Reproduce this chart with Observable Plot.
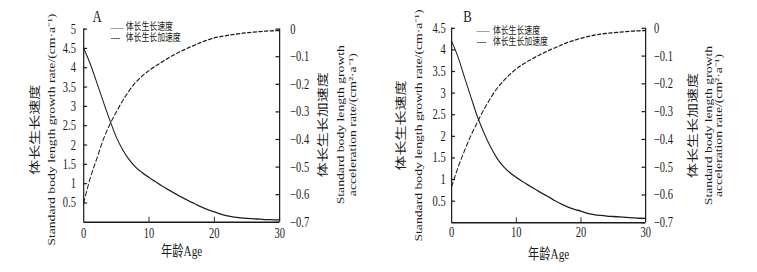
<!DOCTYPE html>
<html>
<head>
<meta charset="utf-8">
<script src="https://cdn.jsdelivr.net/npm/d3@7"></script>
<script src="https://cdn.jsdelivr.net/npm/@observablehq/plot@0.6"></script>
<style>
  html, body { margin: 0; padding: 0; background: #fff; overflow: hidden; }
  #wrap { display: flex; transform: scaleX(0.75); transform-origin: 0 0; width: 1009.33px; }
  #wrap svg { display: block; }
</style>
</head>
<body>
<div id="wrap"></div>
<script>
// ---- data ----
const ages = [0,1,2,3,4,5,6,7,8,9,10,11,12,13,14,15,16,17,18,19,20,21,22,23,24,25,26,27,28,29,30];
const rateA = [4.50,4.10,3.62,3.12,2.64,2.20,1.87,1.61,1.42,1.28,1.16,1.05,0.94,0.84,0.74,0.65,0.56,0.48,0.40,0.33,0.27,0.21,0.165,0.135,0.115,0.10,0.09,0.08,0.07,0.065,0.06];
const accA  = [-0.63,-0.54,-0.47,-0.40,-0.345,-0.30,-0.258,-0.222,-0.192,-0.169,-0.150,-0.134,-0.119,-0.104,-0.091,-0.079,-0.068,-0.058,-0.048,-0.039,-0.032,-0.027,-0.023,-0.019,-0.016,-0.013,-0.011,-0.009,-0.007,-0.006,-0.005];
const rateB = [4.20,3.83,3.36,2.90,2.45,2.08,1.76,1.50,1.30,1.16,1.05,0.95,0.86,0.77,0.68,0.60,0.51,0.43,0.36,0.31,0.27,0.22,0.19,0.17,0.155,0.145,0.135,0.125,0.115,0.105,0.10];
const accB  = [-0.57,-0.50,-0.44,-0.385,-0.337,-0.292,-0.252,-0.217,-0.19,-0.166,-0.146,-0.13,-0.116,-0.103,-0.091,-0.08,-0.07,-0.06,-0.05,-0.043,-0.036,-0.030,-0.025,-0.021,-0.018,-0.016,-0.014,-0.012,-0.010,-0.009,-0.008];

const leftTicksA = [0.5,1,1.5,2,2.5,3,3.5,4,4.5,5];
const leftTicksB = [0.5,1,1.5,2,2.5,3,3.5,4,4.5];
const rightTicks = [0,-0.1,-0.2,-0.3,-0.4,-0.5,-0.6,-0.7];
const xTicks = [0,10,20,30];
const xInnerTicks = [10,20];
const rightDomain = [-0.7, 0];

const panelLetters = ["A","B"];
const legendLabels = ["体长生长速度","体长生长加速度"];
const xTitle = "年龄Age";
const yLeftCn = "体长生长速度";
const yLeftEn = "Standard body length growth rate/(cm·a⁻¹)";
const yRightCn = "体长生长加速度";
const yRightEn1 = "Standard body length growth";
const yRightEn2 = "acceleration rate/(cm²·a⁻¹)";

const FONT = "'Liberation Serif', 'Times New Roman', 'Noto Sans CJK SC', serif";
const INK = "#1a1a1a";

function fmtRight(d) { return d === 0 ? "0" : "\u2212" + Math.abs(d).toFixed(1); }

function panel(cfg) {
  const {width, yMax, rate, acc, leftTicks, letter, m, lab} = cfg;
  const plotW = width - m.left - m.right;
  const plotH = 272 - m.top - m.bottom;
  const toLeft = r => (r - rightDomain[0]) / (rightDomain[1] - rightDomain[0]) * yMax;
  const rows = ages.map((a, i) => ({age: a, rate: rate[i], acc: toLeft(acc[i])}));
  const T = {textAnchor: "middle", lineAnchor: "middle"};
  const L = {frameAnchor: "top-left", textAnchor: "start", lineAnchor: "middle"};
  return Plot.plot({
    width, height: 272,
    marginLeft: m.left, marginRight: m.right, marginTop: m.top, marginBottom: m.bottom,
    x: {domain: [0, 30], axis: null},
    y: {domain: [0, yMax], axis: null},
    style: {fontFamily: FONT, fontSize: "14px", color: INK, background: "white", overflow: "visible"},
    marks: [
      // frame: left, right, bottom
      Plot.ruleX([0, 30], {stroke: INK, strokeWidth: 1.6}),
      Plot.ruleY([0], {stroke: INK, strokeWidth: 1.6}),
      // inward ticks
      Plot.tickY(leftTicks, {y: d => d, insetRight: plotW - 5, stroke: INK, strokeWidth: 1.2}),
      Plot.tickY(rightTicks.map(toLeft), {y: d => d, insetLeft: plotW - 5, stroke: INK, strokeWidth: 1.2}),
      Plot.tickX(xInnerTicks, {x: d => d, insetTop: plotH - 5, stroke: INK, strokeWidth: 1.2}),
      // tick labels
      Plot.axisY(leftTicks, {anchor: "left", tickSize: 0, tickPadding: lab.leftPad, label: null, fontSize: 14, tickFormat: d => String(d)}),
      Plot.text(rightTicks, {y: d => toLeft(d), text: fmtRight, frameAnchor: "right", textAnchor: "start", lineAnchor: "middle", dx: lab.rightPad, fontSize: 14, fill: INK}),
      Plot.axisX(xTicks, {anchor: "bottom", tickSize: 0, tickPadding: lab.xPad, label: null, fontSize: 14, tickFormat: d => String(d)}),
      // curves
      Plot.line(rows, {x: "age", y: "rate", curve: "monotone-x", stroke: INK, strokeWidth: 1.3}),
      Plot.line(rows, {x: "age", y: "acc", curve: "monotone-x", stroke: INK, strokeWidth: 1.3, strokeDasharray: "4.5,3"}),
      // axis titles
      Plot.text([xTitle], {...T, frameAnchor: "bottom", dy: lab.xTitleDy, text: d => d, fontSize: 15, fill: INK}),
      Plot.text([yLeftCn], {...T, frameAnchor: "left", rotate: -90, dx: lab.lcn, dy: lab.ly, text: d => d, fontSize: 15, fill: INK}),
      Plot.text([yLeftEn], {...T, frameAnchor: "left", rotate: -90, dx: lab.len, dy: lab.ly, text: d => d, fontSize: 13.7, fill: INK}),
      Plot.text([yRightCn], {...T, frameAnchor: "right", rotate: -90, dx: lab.rcn, dy: lab.ry, text: d => d, fontSize: 15, fill: INK}),
      Plot.text([yRightEn1], {...T, frameAnchor: "right", rotate: -90, dx: lab.ren1, dy: lab.ry, text: d => d, fontSize: 13.7, fill: INK}),
      Plot.text([yRightEn2], {...T, frameAnchor: "right", rotate: -90, dx: lab.ren2, dy: lab.ry, text: d => d, fontSize: 13.7, fill: INK}),
      // panel letter
      Plot.text([letter], {...T, frameAnchor: "top-left", dx: lab.letterDx, dy: lab.letterDy, text: d => d, fontSize: 17, fill: INK}),
      // legend
      Plot.text(["\u2014\u2014"], {...L, dx: lab.legX, dy: lab.leg1, text: d => d, fontSize: 8.7, fill: INK}),
      Plot.text(["----"], {...L, dx: lab.legX + 0.5, dy: lab.leg2, text: d => d, fontSize: 9.5, fill: INK}),
      Plot.text([legendLabels[0]], {...L, dx: lab.legT, dy: lab.leg1, text: d => d, fontSize: 10.5, fill: INK}),
      Plot.text([legendLabels[1]], {...L, dx: lab.legT, dy: lab.leg2, text: d => d, fontSize: 10.5, fill: INK})
    ]
  });
}

const wrap = document.getElementById("wrap");
wrap.append(panel({
  width: 506.67, yMax: 5, rate: rateA, acc: accA, leftTicks: leftTicksA, letter: panelLetters[0],
  m: {left: 111.1, right: 134.3, top: 28.6, bottom: 50.2},
  lab: {leftPad: 10.4, rightPad: 14, xPad: 6, xTitleDy: 29, lcn: -64, len: -43, ly: 4,
        rcn: 59, ren1: 82, ren2: 97, ry: -1,
        letterDx: 18, letterDy: -12.5, legX: 35.6, legT: 56, leg1: -2.3, leg2: 8.6}
}));
wrap.append(panel({
  width: 502.67, yMax: 4.5, rate: rateB, acc: accB, leftTicks: leftTicksB, letter: panelLetters[1],
  m: {left: 94.67, right: 149.3, top: 27.8, bottom: 49.7},
  lab: {leftPad: 8, rightPad: 11, xPad: 4, xTitleDy: 31, lcn: -67.5, len: -43.5, ly: 0,
        rcn: 64, ren1: 84, ren2: 97.5, ry: 0,
        letterDx: 21, letterDy: -11.8, legX: 33.3, legT: 55, leg1: 2.2, leg2: 13.2}
}));
</script>
</body>
</html>
